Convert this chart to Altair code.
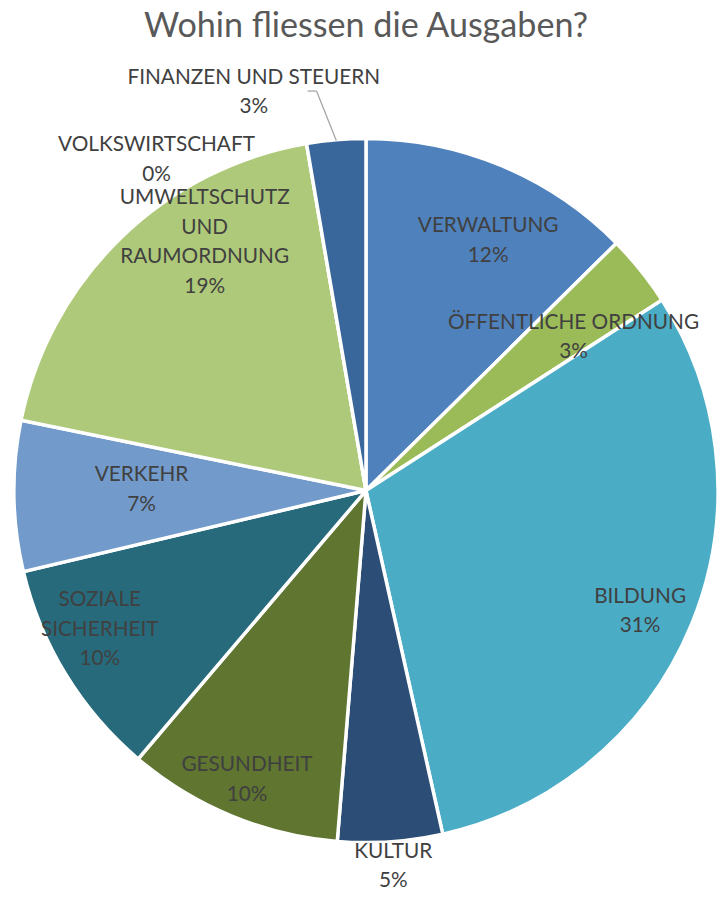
import altair as alt
import pandas as pd

# ---- data ----
categories = [
    "VERWALTUNG", "ÖFFENTLICHE ORDNUNG", "BILDUNG", "KULTUR", "GESUNDHEIT",
    "SOZIALE SICHERHEIT", "VERKEHR", "UMWELTSCHUTZ UND RAUMORDNUNG",
    "VOLKSWIRTSCHAFT", "FINANZEN UND STEUERN",
]
label_names = [
    "VERWALTUNG", "ÖFFENTLICHE ORDNUNG", "BILDUNG", "KULTUR", "GESUNDHEIT",
    "SOZIALE\nSICHERHEIT", "VERKEHR", "UMWELTSCHUTZ\nUND\nRAUMORDNUNG",
    "VOLKSWIRTSCHAFT", "FINANZEN UND STEUERN",
]
shares = [12.6, 3.3, 30.6, 4.8, 9.9, 10.1, 6.9, 19.1, 0.0, 2.7]
pct_labels = ["12%", "3%", "31%", "5%", "10%", "10%", "7%", "19%", "0%", "3%"]
colors = ["#4F81BD", "#9BBB59", "#4BACC6", "#2C4D75", "#5F7530",
          "#276A7C", "#729ACA", "#AFC97A", "#8064A2", "#3A679B"]

# ---- label layout (radius from centre + nudge), not data ----
label_radius = [279, 260, 304, 385, 317, 304, 227, 299, 396, 418]
label_dx = [16, 7, -4, 1, 1, -10, 0, 45, -145, -78]
label_dy = [5, 8, 7, -4, 0, -18, -4, -36, 56, 14]
LINE_H = 30

df = pd.DataFrame({
    "cat": categories,
    "share": shares,
    "order": list(range(len(categories))),
    "label": [f"{n}\n{p}" for n, p in zip(label_names, pct_labels)],
})

R = 356
W, H = 712, 766
PAD = {"left": 6, "right": 0, "top": 100, "bottom": 20}

theta = alt.Theta("share:Q", stack=True, scale=alt.Scale(range=[0, 6.283185307]))
order = alt.Order("order:Q", sort="ascending")

base = alt.Chart(df)

arcs = base.mark_arc(radius=R, stroke="white", strokeWidth=3.5).encode(
    theta=theta,
    order=order,
    color=alt.Color("cat:N", scale=alt.Scale(domain=categories, range=colors), legend=None),
)

layers = [arcs]
for i, c in enumerate(categories):
    n_lines = df.loc[i, "label"].count("\n") + 1
    t = base.transform_calculate(
        t=f"datum.cat === {repr(c)} ? datum.label : ''"
    ).mark_text(
        radius=label_radius[i], dx=label_dx[i],
        dy=label_dy[i] - (n_lines - 1) * LINE_H / 2,
        font="Lato", fontSize=21, color="#404040", lineBreak="\n",
        lineHeight=LINE_H, align="center", baseline="middle",
    ).encode(theta=theta, order=order, text="t:N")
    layers.append(t)

# leader line for FINANZEN UND STEUERN
leader1 = alt.Chart(df.head(1)).mark_rule(color="#A6A6A6", strokeWidth=1.3).encode(
    x=alt.value(297), x2=alt.value(306), y=alt.value(-21), y2=alt.value(-21))
leader2 = alt.Chart(df.head(1)).mark_rule(color="#A6A6A6", strokeWidth=1.3).encode(
    x=alt.value(306), x2=alt.value(326), y=alt.value(-21), y2=alt.value(29))
layers += [leader1, leader2]

chart = alt.layer(*layers).properties(
    width=W, height=H,
    autosize=alt.AutoSizeParams(type="none"),
    padding=PAD,
    title=alt.TitleParams(
        "Wohin fliessen die Ausgaben?", font="Lato", fontSize=34.5, fontWeight="normal",
        color="#595959", anchor="middle", baseline="alphabetic", offset=0, dy=4,
        frame="group",
    ),
).configure_view(stroke=None)

chart.save("out.html", embed_options={"renderer": "svg", "actions": False})
